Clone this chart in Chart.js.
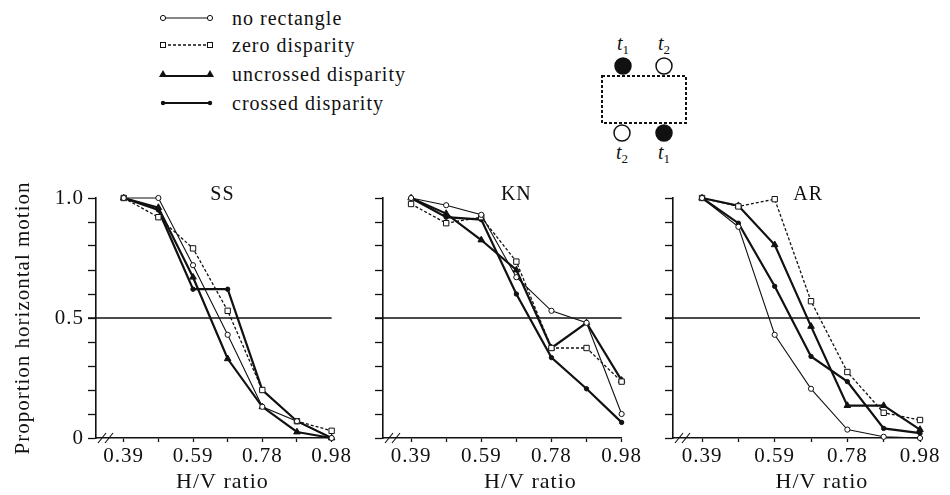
<!DOCTYPE html>
<html>
<head>
<meta charset="utf-8">
<title>Proportion horizontal motion</title>
<style>
  body { margin: 0; background: #fff; width: 950px; height: 495px; position: relative; overflow: hidden;
         font-family: 'Liberation Serif', serif; color: #111; }
  .panel { position: absolute; top: 150px; }
  .panel canvas { display: block; }
  .legend-row { position: absolute; left: 158px; height: 24px; display: flex; align-items: center; white-space: nowrap; }
  .legend-row svg { width: 57px; height: 14px; }
  .legend-row span { margin-left: 17px; font-size: 20px; letter-spacing: 1px; }
  #diagram { position: absolute; left: 580px; top: 28px; }
</style>
</head>
<body>

<div class="legend-row" style="top:6px">
  <svg viewBox="0 0 57 14"><line x1="5" y1="7" x2="52" y2="7" stroke="#111" stroke-width="1.2"/>
    <circle cx="5" cy="7" r="2.6" fill="#fff" stroke="#111" stroke-width="1"/><circle cx="52" cy="7" r="2.6" fill="#fff" stroke="#111" stroke-width="1"/></svg>
  <span>no rectangle</span>
</div>
<div class="legend-row" style="top:33px">
  <svg viewBox="0 0 57 14"><line x1="5" y1="7" x2="52" y2="7" stroke="#111" stroke-width="1.3" stroke-dasharray="3 2"/>
    <rect x="2.5" y="4.5" width="5" height="5" fill="#fff" stroke="#111" stroke-width="1"/><rect x="49.5" y="4.5" width="5" height="5" fill="#fff" stroke="#111" stroke-width="1"/></svg>
  <span>zero disparity</span>
</div>
<div class="legend-row" style="top:62px">
  <svg viewBox="0 0 57 14"><line x1="5" y1="9" x2="52" y2="9" stroke="#111" stroke-width="2.2"/>
    <polygon points="5,3 9,10 1,10" fill="#111"/><polygon points="52,3 56,10 48,10" fill="#111"/></svg>
  <span>uncrossed disparity</span>
</div>
<div class="legend-row" style="top:91px">
  <svg viewBox="0 0 57 14"><line x1="5" y1="7" x2="52" y2="7" stroke="#111" stroke-width="2.2"/>
    <circle cx="5" cy="7" r="2.2" fill="#111"/><circle cx="52" cy="7" r="2.2" fill="#111"/></svg>
  <span>crossed disparity</span>
</div>

<!-- stimulus sketch -->
<svg id="diagram" width="130" height="138" font-family="Liberation Serif, serif" fill="#111">
  <text x="43" y="22" font-size="20" font-style="italic" text-anchor="middle">t<tspan font-size="13" dy="4" font-style="normal">1</tspan></text>
  <text x="84" y="22" font-size="20" font-style="italic" text-anchor="middle">t<tspan font-size="13" dy="4" font-style="normal">2</tspan></text>
  <circle cx="43" cy="38" r="8" fill="#111" stroke="#111" stroke-width="1.5"/>
  <circle cx="84" cy="38" r="8" fill="#fff" stroke="#111" stroke-width="1.5"/>
  <rect x="22" y="48" width="84" height="47" fill="none" stroke="#111" stroke-width="2" stroke-dasharray="3 2"/>
  <circle cx="42" cy="105" r="8" fill="#fff" stroke="#111" stroke-width="1.5"/>
  <circle cx="84" cy="105" r="8" fill="#111" stroke="#111" stroke-width="1.5"/>
  <text x="42" y="131" font-size="20" font-style="italic" text-anchor="middle">t<tspan font-size="13" dy="4" font-style="normal">2</tspan></text>
  <text x="84" y="131" font-size="20" font-style="italic" text-anchor="middle">t<tspan font-size="13" dy="4" font-style="normal">1</tspan></text>
</svg>

<div class="panel" style="left:0px"><canvas id="chartSS" width="352" height="345"></canvas></div>
<div class="panel" style="left:350px"><canvas id="chartKN" width="292" height="345"></canvas></div>
<div class="panel" style="left:640px"><canvas id="chartAR" width="310" height="345"></canvas></div>

<script src="https://cdn.jsdelivr.net/npm/chart.js"></script>
<script>
    // H/V ratio steps (only every other one is labelled)
    const xLabels = ['0.39', '', '0.59', '', '0.78', '', '0.98'];
    const seriesNames = ['no rectangle', 'zero disparity', 'uncrossed disparity', 'crossed disparity'];

    // Observer SS
    const ssNoRect    = [1.00, 1.00, 0.72, 0.43, 0.13, 0.07, 0.00];
    const ssZero      = [1.00, 0.92, 0.79, 0.53, 0.20, 0.07, 0.03];
    const ssUncrossed = [1.00, 0.96, 0.67, 0.33, 0.13, 0.025, 0.00];
    const ssCrossed   = [1.00, 0.95, 0.62, 0.62, 0.20, 0.07, 0.00];

    // Observer KN
    const knNoRect    = [1.00, 0.97, 0.93, 0.67, 0.53, 0.48, 0.10];
    const knZero      = [0.975, 0.895, 0.92, 0.735, 0.375, 0.375, 0.235];
    const knUncrossed = [1.00, 0.935, 0.825, 0.70, 0.375, 0.48, 0.24];
    const knCrossed   = [1.00, 0.92, 0.91, 0.60, 0.335, 0.205, 0.065];

    // Observer AR
    const arNoRect    = [1.00, 0.88, 0.43, 0.205, 0.035, 0.005, 0.00];
    const arZero      = [1.00, 0.965, 0.995, 0.57, 0.275, 0.105, 0.075];
    const arUncrossed = [1.00, 0.968, 0.805, 0.465, 0.135, 0.135, 0.035];
    const arCrossed   = [1.00, 0.895, 0.632, 0.34, 0.235, 0.04, 0.02];

    const ink = '#111';
    const serif = "'Liberation Serif', serif";

    // line + marker look of each condition
    const seriesStyles = [
        { borderWidth: 1.1, borderDash: [], pointStyle: 'circle', pointRadius: 2.6, fill: '#fff' },
        { borderWidth: 1.3, borderDash: [3, 2], pointStyle: 'rect', pointRadius: 3.8, fill: '#fff' },
        { borderWidth: 2.2, borderDash: [], pointStyle: 'triangle', pointRadius: 3.8, fill: ink },
        { borderWidth: 2.2, borderDash: [], pointStyle: 'circle', pointRadius: 2.2, fill: ink },
    ];

    // 0.5 reference line, axis break, panel name and x title
    const panelDecor = {
        id: 'panelDecor',
        beforeDraw(chart) {
            chart.ctx.letterSpacing = '1px';
        },
        beforeDatasetsDraw(chart) {
            const { ctx, chartArea: a, scales: { y } } = chart;
            const yMid = y.getPixelForValue(0.5);
            ctx.save();
            ctx.strokeStyle = ink;
            ctx.lineWidth = 1.5;
            ctx.beginPath();
            ctx.moveTo(a.left - 8, yMid);
            ctx.lineTo(a.right, yMid);
            ctx.stroke();
            ctx.lineWidth = 1.2;
            [6, 13].forEach(dx => {
                ctx.beginPath();
                ctx.moveTo(a.left + dx - 4, a.bottom + 5);
                ctx.lineTo(a.left + dx + 4, a.bottom - 5);
                ctx.stroke();
            });
            ctx.restore();
        },
        afterDraw(chart, args, opts) {
            const { ctx, chartArea: a, scales: { x } } = chart;
            ctx.save();
            ctx.fillStyle = ink;
            ctx.textAlign = 'center';
            ctx.textBaseline = 'middle';
            ctx.font = '20px ' + serif;
            ctx.fillText(opts.name, x.getPixelForValue(opts.nameAt), a.top - 3);
            ctx.font = '22px ' + serif;
            ctx.fillText('H/V ratio', x.getPixelForValue(opts.xTitleAt), a.bottom + 44);
            ctx.restore();
        }
    };

    function makePanel(canvasId, name, series, cfg) {
        const ctx = document.getElementById(canvasId).getContext('2d');
        return new Chart(ctx, {
            type: 'line',
            data: {
                datasets: series.map((vals, s) => {
                    const st = seriesStyles[s];
                    return {
                        label: seriesNames[s],
                        data: vals.map((v, i) => ({ x: i, y: v })),
                        borderColor: ink,
                        borderWidth: st.borderWidth,
                        borderDash: st.borderDash,
                        pointStyle: st.pointStyle,
                        pointRadius: st.pointRadius,
                        pointBorderWidth: 1,
                        pointBorderColor: ink,
                        // first triangle is drawn open in the original
                        pointBackgroundColor: s === 2 ? (c => c.dataIndex === 0 ? '#fff' : ink) : st.fill,
                        tension: 0,
                        clip: false
                    };
                })
            },
            options: {
                responsive: false,
                animation: false,
                layout: { padding: { top: 48, right: cfg.padRight, left: 0, bottom: 0 } },
                plugins: {
                    legend: { display: false },
                    tooltip: { enabled: false },
                    panelDecor: { name: name, nameAt: cfg.nameAt, xTitleAt: cfg.xTitleAt }
                },
                scales: {
                    x: {
                        type: 'linear',
                        min: -0.8,
                        max: 6,
                        afterBuildTicks: s => { s.ticks = xLabels.map((_, i) => ({ value: i })); },
                        afterFit: s => { s.height = 57; },
                        grid: { drawOnChartArea: false, tickLength: 4, tickColor: ink, tickWidth: 1.3 },
                        border: { color: ink, width: 1.6 },
                        ticks: {
                            autoSkip: false,
                            maxRotation: 0,
                            padding: 2,
                            color: ink,
                            font: { family: serif, size: 21 },
                            callback: v => xLabels[v] ?? ''
                        }
                    },
                    y: {
                        min: 0,
                        max: 1,
                        afterFit: s => { s.width = cfg.yWidth; },
                        grid: { drawOnChartArea: false, tickLength: 8, tickColor: ink, tickWidth: 1.3 },
                        border: { color: ink, width: 1.6 },
                        ticks: {
                            display: cfg.showY,
                            stepSize: 0.1,
                            autoSkip: false,
                            padding: 4,
                            color: ink,
                            font: { family: serif, size: 21 },
                            callback: v => {
                                const r = Math.round(v * 10) / 10;
                                return r === 1 ? '1.0' : r === 0.5 ? '0.5' : r === 0 ? '0' : '';
                            }
                        },
                        title: {
                            display: cfg.showY,
                            text: 'Proportion horizontal motion',
                            color: ink,
                            font: { family: serif, size: 21 },
                            padding: { top: 11, bottom: 0 }
                        }
                    }
                }
            },
            plugins: [panelDecor]
        });
    }

    const ssChart = makePanel('chartSS', 'SS', [ssNoRect, ssZero, ssUncrossed, ssCrossed],
        { padRight: 10, yWidth: 96, showY: true, nameAt: 2.85, xTitleAt: 2.85 });
    const knChart = makePanel('chartKN', 'KN', [knNoRect, knZero, knUncrossed, knCrossed],
        { padRight: 10, yWidth: 33, showY: false, nameAt: 3.0, xTitleAt: 3.4 });
    const arChart = makePanel('chartAR', 'AR', [arNoRect, arZero, arUncrossed, arCrossed],
        { padRight: 30, yWidth: 33, showY: false, nameAt: 2.92, xTitleAt: 3.3 });
</script>
</body>
</html>
